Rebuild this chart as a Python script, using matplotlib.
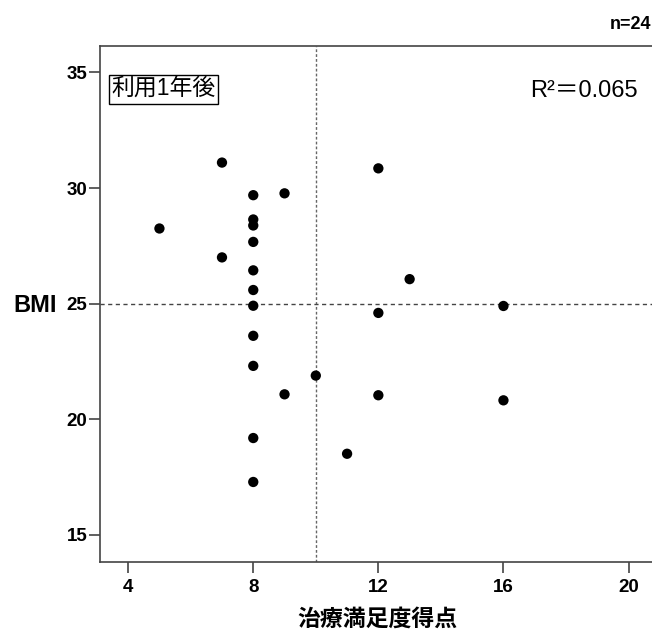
import matplotlib
matplotlib.use("Agg")
import matplotlib.pyplot as plt

# satisfaction score vs BMI, 1 year after
score = [5, 7, 7, 8, 8, 8, 8, 8, 8, 8, 8, 8, 8, 8,
         9, 9, 10, 11, 12, 12, 12, 13, 16, 16]
bmi = [28.25, 31.1, 27.0, 29.69, 28.64, 28.38, 27.67, 26.44, 25.59, 24.91,
       23.61, 22.31, 19.19, 17.29, 29.77, 21.08, 21.89, 18.51, 30.85, 24.6,
       21.04, 26.06, 24.9, 20.82]

x_ticks = [4, 8, 12, 16, 20]
y_ticks = [15, 20, 25, 30, 35]
x_ref = 10
y_ref = 25

plt.rcParams['font.family'] = ['Liberation Sans', 'Noto Sans CJK JP', 'DejaVu Sans']

fig = plt.figure(figsize=(6.52, 6.39), dpi=100)
ax = fig.add_axes([0.1534, 0.1205, 0.8466, 0.8075])

ax.axvline(x_ref, color='#666666', lw=1.0, ls=(0, (2, 1.5)), zorder=1)
ax.axhline(y_ref, color='#444444', lw=1.0, ls=(0, (3, 2.5)), zorder=1)
ax.scatter(score, bmi, s=55, color='black', zorder=3, edgecolors='none')

ax.set_xlim(3.1, 20.75)
ax.set_ylim(13.83, 36.14)
ax.set_xticks(x_ticks)
ax.set_yticks(y_ticks)

for s in ['left', 'bottom', 'top']:
    ax.spines[s].set_color('#444444')
    ax.spines[s].set_linewidth(1.2)
ax.spines['right'].set_visible(False)

ax.tick_params(axis='both', direction='out', length=8, width=1.2, color='#444444',
               labelsize=13.5)
ax.tick_params(axis='y', pad=1)
ax.tick_params(axis='x', pad=4)
for lab in ax.get_xticklabels() + ax.get_yticklabels():
    lab.set_fontweight('bold')

ax.set_ylabel('BMI', rotation=0, fontsize=17, fontweight='bold', va='center')
ax.yaxis.set_label_coords(-0.1178, 0.497)
ax.set_xlabel('治療満足度得点', fontsize=16.5, fontweight='bold')
ax.xaxis.set_label_coords(0.502, -0.088)

ax.text(0.1150, 0.916, '利用1年後', transform=ax.transAxes, fontsize=16.5,
        ha='center', va='center',
        bbox=dict(boxstyle='square,pad=0.12', fc='white', ec='black', lw=1.0))
ax.text(0.876, 0.912, 'R²＝0.065', transform=ax.transAxes, fontsize=17,
        ha='center', va='center')

fig.text(0.999, 0.962, 'n=24', fontsize=13, fontweight='bold', ha='right', va='center')

fig.savefig('out.png', dpi=100)
